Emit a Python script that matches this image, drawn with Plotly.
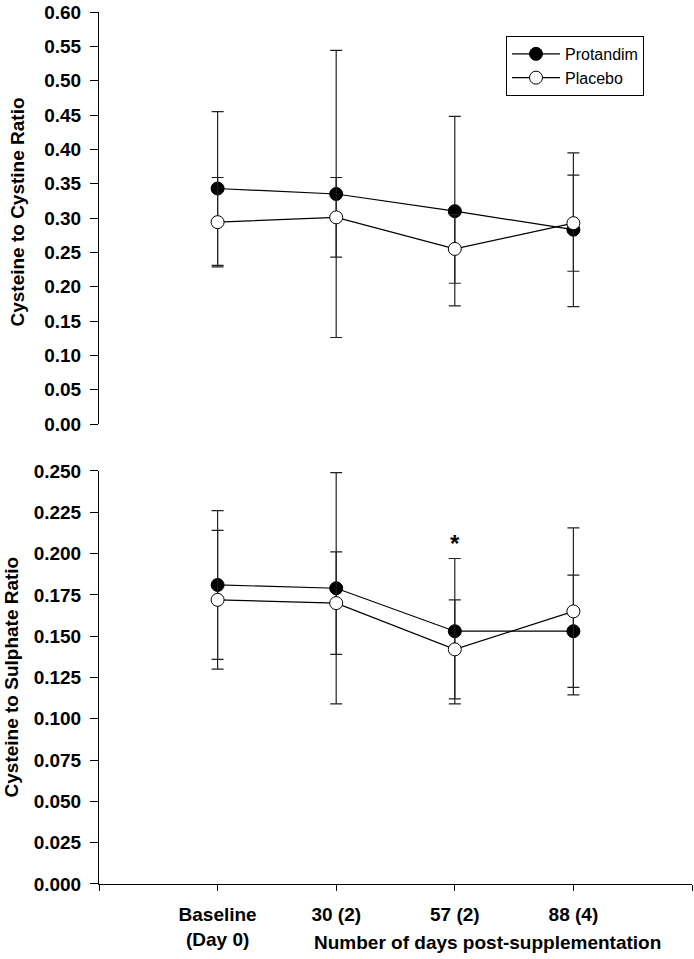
import plotly.graph_objects as go

# ---- data ----
categories = ["Baseline<br>(Day 0)", "30 (2)", "57 (2)", "88 (4)"]
x_pos = [1, 2, 3, 4]

# Top panel: Cysteine to Cystine Ratio
cys_protandim = [0.343, 0.335, 0.310, 0.283]
cys_protandim_err = [0.112, 0.209, 0.138, 0.112]
cys_placebo = [0.294, 0.301, 0.255, 0.2925]
cys_placebo_err = [0.065, 0.058, 0.050, 0.070]

# Bottom panel: Cysteine to Sulphate Ratio
sul_protandim = [0.181, 0.179, 0.153, 0.153]
sul_protandim_err = [0.045, 0.070, 0.044, 0.034]
sul_placebo = [0.172, 0.170, 0.142, 0.165]
sul_placebo_err = [0.042, 0.031, 0.030, 0.0505]

top_ticks = [round(i * 0.05, 2) for i in range(13)]
bot_ticks = [round(i * 0.025, 3) for i in range(11)]

FONT = "Arial, Liberation Sans, Helvetica, sans-serif"
ERR_COLOR = "#222222"
BOLD_SIZE = 19

fig = go.Figure()


def add_series(x, y, err, name, filled, xa, ya):
    fig.add_trace(go.Scatter(
        x=x, y=y, name=name, mode="lines+markers",
        xaxis=xa, yaxis=ya, showlegend=False,
        line=dict(color="black", width=1.2),
        marker=dict(size=13, color="black" if filled else "white",
                    line=dict(color="black", width=1)),
        error_y=dict(type="data", array=err, visible=True,
                     color=ERR_COLOR, thickness=1.2, width=6),
    ))


def add_legend_entry(name, filled):
    fig.add_trace(go.Scatter(
        x=[None], y=[None], name=name, mode="lines+markers",
        xaxis="x", yaxis="y", showlegend=True,
        line=dict(color="black", width=1.2),
        marker=dict(size=13, color="black" if filled else "white",
                    line=dict(color="black", width=1)),
    ))


add_series(x_pos, cys_protandim, cys_protandim_err, "Protandim", True, "x", "y")
add_series(x_pos, cys_placebo, cys_placebo_err, "Placebo", False, "x", "y")
add_series(x_pos, sul_protandim, sul_protandim_err, "Protandim", True, "x2", "y2")
add_series(x_pos, sul_placebo, sul_placebo_err, "Placebo", False, "x2", "y2")
add_legend_entry("Protandim", True)
add_legend_entry("Placebo", False)

L, R, T, B = 99, 2, 10, 75
W, H = 694, 959
ph = H - T - B
pw = W - L - R


def py(pix):
    return 1 - (pix - T) / ph


def px(pix):
    return (pix - L) / pw


tickfont = dict(family=FONT, size=BOLD_SIZE, color="black", weight="bold")

fig.update_layout(
    width=W, height=H,
    margin=dict(l=L, r=R, t=T, b=B),
    paper_bgcolor="white", plot_bgcolor="white",
    font=dict(family=FONT, color="black"),
    xaxis=dict(domain=[0, 1], range=[0, 5], anchor="y", visible=False),
    yaxis=dict(domain=[py(423), 1], range=[0, 0.6], anchor="x",
               tickvals=top_ticks, tickformat=".2f",
               showline=True, linecolor="black", linewidth=1,
               ticks="outside", ticklen=8, tickcolor="black", tickwidth=1,
               ticklabelstandoff=5,
               showgrid=False, zeroline=False, tickfont=tickfont),
    xaxis2=dict(domain=[0, 1], range=[0, 5], anchor="y2",
                tickvals=[0, 1, 2, 3, 4, 5],
                ticktext=[""] + categories + [""],
                showline=True, linecolor="black", linewidth=1,
                ticks="outside", ticklen=6, tickcolor="black", tickwidth=1,
                ticklabelstandoff=7,
                showgrid=False, zeroline=False, tickfont=tickfont),
    yaxis2=dict(domain=[0, py(470)], range=[0, 0.25], anchor="x2",
                tickvals=bot_ticks, tickformat=".3f",
                showline=True, linecolor="black", linewidth=1,
                ticks="outside", ticklen=8, tickcolor="black", tickwidth=1,
                ticklabelstandoff=5,
                showgrid=False, zeroline=False, tickfont=tickfont),
    legend=dict(x=px(506), y=py(34), xanchor="left", yanchor="top",
                bordercolor="black", borderwidth=1, bgcolor="white",
                font=dict(family=FONT, size=16, color="black"),
                itemwidth=48, entrywidth=107,
                tracegroupgap=0),
    showlegend=True,
)

titlefont = dict(family=FONT, size=BOLD_SIZE, color="black", weight="bold")
fig.add_annotation(text="Cysteine to Cystine Ratio", xref="paper", yref="paper",
                   x=px(18), y=py(211), textangle=-90, showarrow=False,
                   xanchor="center", yanchor="middle", font=titlefont)
fig.add_annotation(text="Cysteine to Sulphate Ratio", xref="paper", yref="paper",
                   x=px(11), y=py(677), textangle=-90, showarrow=False,
                   xanchor="center", yanchor="middle", font=titlefont)
fig.add_annotation(text="Number of days post-supplementation", xref="paper", yref="paper",
                   x=px(487), y=py(943), showarrow=False,
                   xanchor="center", yanchor="middle", font=titlefont)
fig.add_annotation(text="*", xref="x2", yref="y2", x=3, y=0.206, showarrow=False,
                   xanchor="center", yanchor="middle",
                   font=dict(family=FONT, size=24, color="black", weight="bold"))

fig.write_html("out.html", config={"displayModeBar": False},
               post_script="document.body.style.margin='0px';")
